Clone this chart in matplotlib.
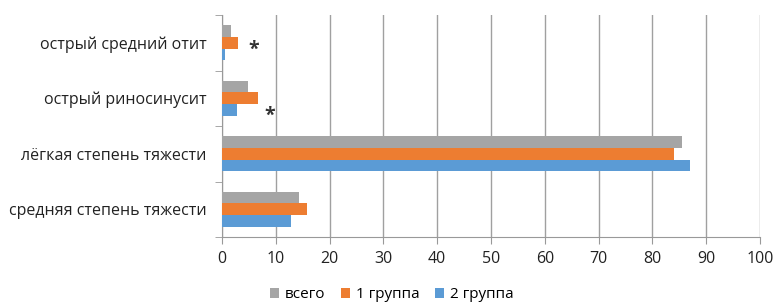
import numpy as np
import matplotlib.pyplot as plt

plt.rcParams['font.family'] = ['Open Sans', 'DejaVu Sans']

# Categories from top to bottom
categories = ['острый средний отит', 'острый риносинусит',
              'лёгкая степень тяжести', 'средняя степень тяжести']
total = [1.7, 4.8, 85.5, 14.3]
group1 = [3.0, 6.7, 84.0, 15.8]
group2 = [0.6, 2.8, 87.0, 12.8]
series_names = ['всего', '1 группа', '2 группа']
colors = ['#A5A5A5', '#ED7D31', '#5B9BD5']

fig = plt.figure(figsize=(7.74, 3.06), dpi=100)
ax = fig.add_axes([222 / 774, 1 - 237 / 306, (760 - 222) / 774, (237 - 15) / 306])

n = len(categories)
y = np.arange(n)[::-1].astype(float)
h = 0.21
for i, (vals, name, c) in enumerate(zip([total, group1, group2], series_names, colors)):
    ax.barh(y + (1 - i) * h, vals, height=h, color=c, label=name, zorder=3)

# significance marks
ax.text(5.9, y[0] - 0.13, '*', ha='center', va='center', fontsize=14,
        fontweight='bold', color='#333333')
ax.text(8.9, y[1] - 0.32, '*', ha='center', va='center', fontsize=14,
        fontweight='bold', color='#333333')

ax.set_xlim(0, 100)
ax.set_ylim(-0.5, n - 0.5)
ax.set_xticks(np.arange(0, 101, 10))
ax.set_yticks(y)
ax.set_yticklabels(categories)
ax.set_yticks(np.arange(-0.5, n, 1), minor=True)
ax.tick_params(axis='y', which='major', length=0, labelsize=11.5, colors='#222222', pad=11)
ax.tick_params(axis='y', which='minor', length=5, color='#999999')
ax.tick_params(axis='x', length=5, color='#999999', labelsize=11.5, labelcolor='#222222', pad=5)
ax.grid(axis='x', color='#A0A0A0', linewidth=1, zorder=0)
for s in ['top', 'right']:
    ax.spines[s].set_visible(False)
for s in ['left', 'bottom']:
    ax.spines[s].set_color('#999999')

fig.legend(loc='center', bbox_to_anchor=(392 / 774, 1 - 295 / 306), ncol=3, frameon=False,
           fontsize=11, handlelength=0.6, handleheight=0.6, handletextpad=0.4, columnspacing=1.0)

fig.savefig('out.png', dpi=100)
